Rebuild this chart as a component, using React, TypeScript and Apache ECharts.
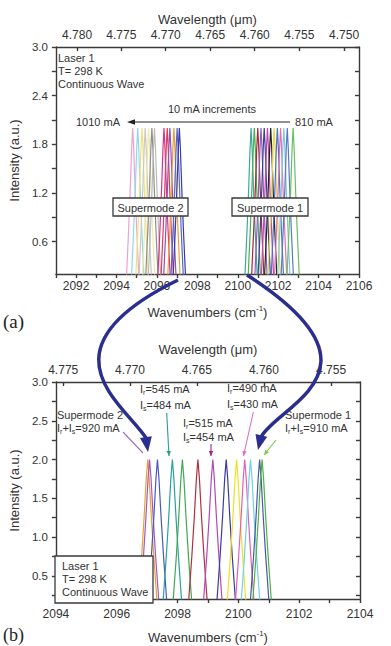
import React, { useEffect, useRef } from "react";
import * as echarts from "echarts";

// ---------- data ----------
const wavenumberLabelsA = [2092, 2094, 2096, 2098, 2100, 2102, 2104, 2106];
const wavenumberTicksA = [2091, 2092, 2093, 2094, 2095, 2096, 2097, 2098, 2099, 2100, 2101, 2102, 2103, 2104, 2105, 2106];
const wavelengthLabelsA = [4.78, 4.775, 4.77, 4.765, 4.76, 4.755, 4.75];
const intensityLabelsA = [0.6, 1.2, 1.8, 2.4, 3.0];
const intensityTicksA = [0.6, 0.9, 1.2, 1.5, 1.8, 2.1, 2.4, 2.7, 3.0];

const wavenumberLabelsB = [2094, 2096, 2098, 2100, 2102, 2104];
const wavenumberTicksB = [2094, 2095, 2096, 2097, 2098, 2099, 2100, 2101, 2102, 2103, 2104];
const wavelengthLabelsB = [4.775, 4.77, 4.765, 4.76, 4.755];
const intensityLabelsB = [0.5, 1.0, 1.5, 2.0, 2.5, 3.0];
const intensityTicksB = [0.25, 0.5, 0.75, 1.0, 1.25, 1.5, 1.75, 2.0, 2.25, 2.5, 2.75, 3.0];

// common line shape of one lasing peak: offset from centre (cm-1) and intensity (a.u.)
const peakOffsets = [-0.42, -0.3, -0.2, -0.12, -0.05, 0, 0.05, 0.12, 0.2, 0.3, 0.42];
const peakShape = [0.0, 0.2, 0.75, 1.25, 1.75, 2.0, 1.75, 1.25, 0.75, 0.2, 0.0];

// (a) peak centres, 810 mA .. 1010 mA
const peakCentresA = [
  2094.80, 2095.05, 2095.26, 2095.42, 2095.59, 2095.75, 2095.88,
  2096.35, 2096.51, 2096.64, 2096.84, 2097.00, 2097.11,
  2100.66, 2100.82, 2100.99, 2101.15, 2101.31, 2101.47, 2101.63,
  2101.80, 2101.96, 2102.12, 2102.28, 2102.45, 2102.74,
];
const peakColorsA = [
  "#f0a0d0", "#90d8e8", "#f2e27a", "#c8c8c8", "#f0e8a8", "#8e8e8e", "#bcbcbc",
  "#e0308a", "#d04060", "#9050b0", "#f0a030", "#5068c8", "#3a3aa8",
  "#3aa89a", "#4cae4c", "#a52a3a", "#8e5cc0", "#3c3c9c", "#c844a8", "#222222",
  "#e8d840", "#4a70c8", "#e070b0", "#80c8e0", "#5a78c0", "#68c060",
];

// (b) peak centres
const peakCentresB = [
  2097.02, 2097.08, 2097.34, 2097.83, 2098.16, 2098.67, 2099.16,
  2099.60, 2099.94, 2100.21, 2100.40, 2100.70, 2100.78,
];
const peakColorsB = [
  "#f0a030", "#9a5cc8", "#4a58c0", "#2aa0a0", "#40a850", "#b03040", "#b048b8",
  "#3a3aa0", "#f0e020", "#e060b8", "#70d0e8", "#405aa8", "#50b040",
];

// ---------- styles ----------
const FONT = "'Liberation Sans', Arial, sans-serif";
const AX = { color: "#3a3a3a", width: 1.4 };
const TXT = "#333";

function peakData(c: number) {
  return peakOffsets.map((d, i) => [c + d, peakShape[i]]);
}

function xAxisBottom(gridIndex: number, min: number, max: number, labels: number[], ticks: number[], margin: number, nameGap: number) {
  return {
    type: "value", gridIndex, position: "bottom", min, max,
    axisLine: { show: true, onZero: false, lineStyle: AX },
    axisTick: { show: true, inside: false, length: 4, customValues: ticks, lineStyle: AX },
    axisLabel: { customValues: labels, margin, fontSize: 12, color: TXT, fontFamily: FONT, formatter: (v: number) => String(Math.round(v)) },
    splitLine: { show: false },
    name: "Wavenumbers (cm{sup|-1})", nameLocation: "middle", nameGap,
    nameTextStyle: { fontSize: 13, color: TXT, fontFamily: FONT, lineHeight: 16, rich: { sup: { fontSize: 8, lineHeight: 8, verticalAlign: "top", color: TXT, fontFamily: FONT } } },
  };
}

function xAxisTop(gridIndex: number, min: number, max: number, labels: number[], margin: number, nameGap: number) {
  const pos = labels.map((l) => 10000 / l);
  return {
    type: "value", gridIndex, position: "top", min, max,
    axisLine: { show: true, onZero: false, lineStyle: AX },
    axisTick: { show: true, inside: true, length: 4, customValues: pos, lineStyle: AX },
    axisLabel: { customValues: pos, margin, fontSize: 12, color: TXT, fontFamily: FONT, formatter: (v: number) => (10000 / v).toFixed(3) },
    splitLine: { show: false },
    name: "Wavelength (μm)", nameLocation: "middle", nameGap,
    nameTextStyle: { fontSize: 13, color: TXT, fontFamily: FONT },
  };
}

function yAxisLeft(gridIndex: number, labels: number[], ticks: number[]) {
  return {
    type: "value", gridIndex, position: "left", min: 0.2, max: 3.0,
    axisLine: { show: true, onZero: false, lineStyle: AX },
    axisTick: { show: true, inside: false, length: 4, customValues: ticks, lineStyle: AX },
    axisLabel: { customValues: labels, margin: 8, fontSize: 11.5, color: TXT, fontFamily: FONT, formatter: (v: number) => v.toFixed(1) },
    splitLine: { show: false },
    name: "Intensity (a.u.)", nameLocation: "middle", nameGap: 31,
    nameTextStyle: { fontSize: 13, color: TXT, fontFamily: FONT },
  };
}

function yAxisRight(gridIndex: number, ticks: number[]) {
  return {
    type: "value", gridIndex, position: "right", min: 0.2, max: 3.0,
    axisLine: { show: true, onZero: false, lineStyle: AX },
    axisTick: { show: true, inside: true, length: 4, customValues: ticks, lineStyle: AX },
    axisLabel: { show: false },
    splitLine: { show: false },
  };
}

function txt(x: number, y: number, text: string, size = 11, align = "left", extra: any = {}) {
  return {
    type: "text", x, y, z: 100,
    style: { text, fontSize: size, fill: TXT, fontFamily: FONT, align, verticalAlign: "middle", ...extra },
  };
}

function subTxt(x: number, y: number, text: string) {
  return {
    type: "text", x, y, z: 100,
    style: {
      text, fill: TXT, fontFamily: FONT, fontSize: 11, align: "left", verticalAlign: "middle",
      rich: {
        n: { fontSize: 11, lineHeight: 14, fill: TXT, fontFamily: FONT },
        s: { fontSize: 7, lineHeight: 7, verticalAlign: "bottom", fill: TXT, fontFamily: FONT },
      },
    },
  };
}

function arrowHead(x1: number, y1: number, x2: number, y2: number, len: number, half: number, color: string) {
  const dx = x2 - x1, dy = y2 - y1;
  const L = Math.sqrt(dx * dx + dy * dy);
  const ux = dx / L, uy = dy / L;
  const bx = x2 - ux * len, by = y2 - uy * len;
  return {
    type: "polygon", z: 101,
    shape: { points: [[x2, y2], [bx - uy * half, by + ux * half], [bx + uy * half, by - ux * half]] },
    style: { fill: color },
  };
}

function pointer(x1: number, y1: number, x2: number, y2: number, color: string, head: boolean) {
  const els: any[] = [
    { type: "line", z: 100, shape: { x1, y1, x2, y2 }, style: { stroke: color, lineWidth: 1.1 } },
  ];
  if (head) els.push(arrowHead(x1, y1, x2, y2, 5, 2.2, color));
  return els;
}

function bigArrow(p0: number[], p1: number[], p2: number[], p3: number[], tip: number[]) {
  const color = "#2b2e8e";
  return [
    {
      type: "bezierCurve", z: 102,
      shape: { x1: p0[0], y1: p0[1], cpx1: p1[0], cpy1: p1[1], cpx2: p2[0], cpy2: p2[1], x2: p3[0], y2: p3[1] },
      style: { stroke: color, lineWidth: 3.5, fill: null },
    },
    arrowHead(p3[0], p3[1], tip[0], tip[1], 15, 6, color),
  ];
}

export default function App() {
  const ref = useRef<HTMLDivElement>(null);

  useEffect(() => {
    if (!ref.current) return;
    const chart = echarts.init(ref.current, undefined, { renderer: "svg" });

    const series: any[] = [];
    peakCentresA.forEach((c, i) => {
      series.push({
        type: "line", xAxisIndex: 0, yAxisIndex: 0, data: peakData(c), showSymbol: false, symbol: "none",
        lineStyle: { width: 1.2, color: peakColorsA[i] }, itemStyle: { color: peakColorsA[i] }, silent: true, clip: true, z: 2,
      });
    });
    peakCentresB.forEach((c, i) => {
      series.push({
        type: "line", xAxisIndex: 2, yAxisIndex: 2, data: peakData(c), showSymbol: false, symbol: "none",
        lineStyle: { width: 1.2, color: peakColorsB[i] }, itemStyle: { color: peakColorsB[i] }, silent: true, clip: true, z: 2,
      });
    });

    const graphic: any[] = [
      // panel (a) annotations
      txt(58, 58, "Laser 1"),
      txt(58, 71, "T= 298 K"),
      txt(58, 84, "Continuous Wave"),
      txt(212, 109, "10 mA increments", 11, "center"),
      txt(120, 122, "1010 mA", 11, "right"),
      txt(295, 122, "810 mA", 11, "left"),
      { type: "line", z: 100, shape: { x1: 290, y1: 122, x2: 134, y2: 122 }, style: { stroke: "#222", lineWidth: 1.2 } },
      arrowHead(290, 122, 127, 122, 8, 2.8, "#222"),
      { type: "rect", z: 100, shape: { x: 113, y: 198, width: 75, height: 18 }, style: { fill: "#fff", stroke: "#3a3a3a", lineWidth: 1.3 } },
      txt(150.5, 207.5, "Supermode 2", 11, "center"),
      { type: "rect", z: 100, shape: { x: 232, y: 198, width: 76, height: 18 }, style: { fill: "#fff", stroke: "#3a3a3a", lineWidth: 1.3 } },
      txt(270, 207.5, "Supermode 1", 11, "center"),
      // panel labels
      { type: "text", x: 13.5, y: 321, z: 100, style: { text: "(a)", fontSize: 19, fill: "#222", fontFamily: "'Liberation Serif', 'Times New Roman', serif", align: "center", verticalAlign: "middle" } },
      { type: "text", x: 13.5, y: 635, z: 100, style: { text: "(b)", fontSize: 18, fill: "#222", fontFamily: "'Liberation Serif', 'Times New Roman', serif", align: "center", verticalAlign: "middle" } },
      // panel (b) annotations
      txt(57, 414.5, "Supermode 2"),
      subTxt(57, 428, "{n|I}{s|r}{n|+I}{s|s}{n|=920 mA}"),
      subTxt(140, 388.5, "{n|I}{s|r}{n|=545 mA}"),
      subTxt(140, 404.5, "{n|I}{s|s}{n|=484 mA}"),
      subTxt(183, 422.5, "{n|I}{s|r}{n|=515 mA}"),
      subTxt(183, 437, "{n|I}{s|s}{n|=454 mA}"),
      subTxt(227, 388, "{n|I}{s|r}{n|=490 mA}"),
      subTxt(227, 404, "{n|I}{s|s}{n|=430 mA}"),
      txt(285, 415, "Supermode 1"),
      subTxt(285, 428, "{n|I}{s|r}{n|+I}{s|s}{n|=910 mA}"),
      ...pointer(123, 432, 143, 453, "#9b6fd0", false),
      ...pointer(166.7, 413, 169, 456, "#2a9d8f", true),
      ...pointer(211, 444, 211, 456, "#9c2a8c", true),
      ...pointer(253.3, 412, 243.5, 456, "#e070c0", true),
      ...pointer(276, 440, 264, 455, "#7ac943", true),
      { type: "rect", z: 100, shape: { x: 55, y: 556, width: 98, height: 47 }, style: { fill: "#fff", stroke: "#3a3a3a", lineWidth: 1.3 } },
      txt(62, 566, "Laser 1"),
      txt(62, 579, "T= 298 K"),
      txt(62, 592, "Continuous Wave"),
      // big curved arrows linking the panels
      ...bigArrow([178, 280], [35, 350], [125, 405], [146, 438], [148, 452]),
      ...bigArrow([247, 275], [395, 370], [278, 405], [261, 437], [258, 450]),
    ];

    chart.setOption({
      animation: false,
      textStyle: { fontFamily: FONT },
      grid: [
        { left: 52, top: 47, width: 307, height: 227, containLabel: false },
        { left: 52, top: 382, width: 308, height: 225, containLabel: false },
      ],
      xAxis: [
        xAxisBottom(0, 2091, 2106, wavenumberLabelsA, wavenumberTicksA, 6, 30),
        xAxisTop(0, 2091, 2106, wavelengthLabelsA, 6, 21),
        xAxisBottom(1, 2094, 2104, wavenumberLabelsB, wavenumberTicksB, 9, 30),
        xAxisTop(1, 2094, 2104, wavelengthLabelsB, 6, 26),
      ],
      yAxis: [
        yAxisLeft(0, intensityLabelsA, intensityTicksA),
        yAxisRight(0, intensityTicksA),
        yAxisLeft(1, intensityLabelsB, intensityTicksB),
        yAxisRight(1, intensityTicksB),
      ],
      series,
      graphic,
    });

    return () => chart.dispose();
  }, []);

  return (
    <div
      ref={ref}
      style={{ position: "fixed", left: 0, top: 0, width: 391, height: 646, background: "#fff" }}
    />
  );
}
